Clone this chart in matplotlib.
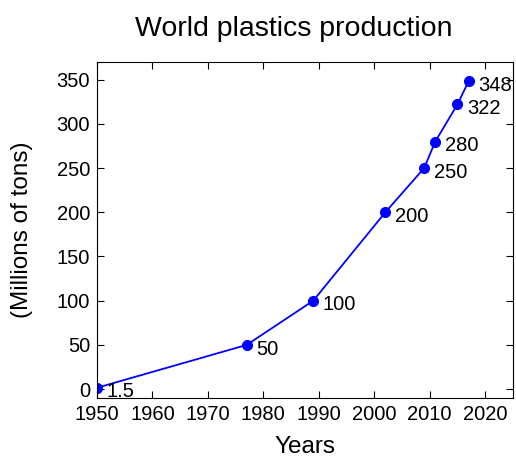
import matplotlib
matplotlib.use('Agg')
import matplotlib.pyplot as plt

years = [1950, 1977, 1989, 2002, 2009, 2011, 2015, 2017]
production = [1.5, 50, 100, 200, 250, 280, 322, 348]
labels = ['1.5', '50', '100', '200', '250', '280', '322', '348']

plt.rcParams['font.family'] = ['Liberation Sans', 'DejaVu Sans']

fig = plt.figure(figsize=(5.16, 4.59), dpi=100)
ax = fig.add_axes([0.188, 0.133, 0.806, 0.732])

ax.plot(years, production, '-', color='#0000ff', lw=1.3,
        marker='o', markersize=7, markerfacecolor='#0000ff', markeredgecolor='#0000ff')
for x, y, t in zip(years, production, labels):
    ax.annotate(t, (x, y), xytext=(7, -3), textcoords='offset points',
                ha='left', va='center', fontsize=14.5)

ax.set_xlim(1950, 2025)
ax.set_ylim(-10, 370)
ax.set_xticks(range(1950, 2021, 10))
ax.set_yticks(range(0, 351, 50))
ax.tick_params(direction='in', top=True, right=True, labelsize=14.5, length=5, pad=5)
for s in ax.spines.values():
    s.set_linewidth(0.8)

ax.set_title('World plastics production', fontsize=20.5, pad=19, x=0.473)
ax.set_xlabel('Years', fontsize=17.5, labelpad=9)
ax.set_ylabel('(Millions of tons)', fontsize=17.5, labelpad=17)

fig.savefig('out.png', dpi=100)
